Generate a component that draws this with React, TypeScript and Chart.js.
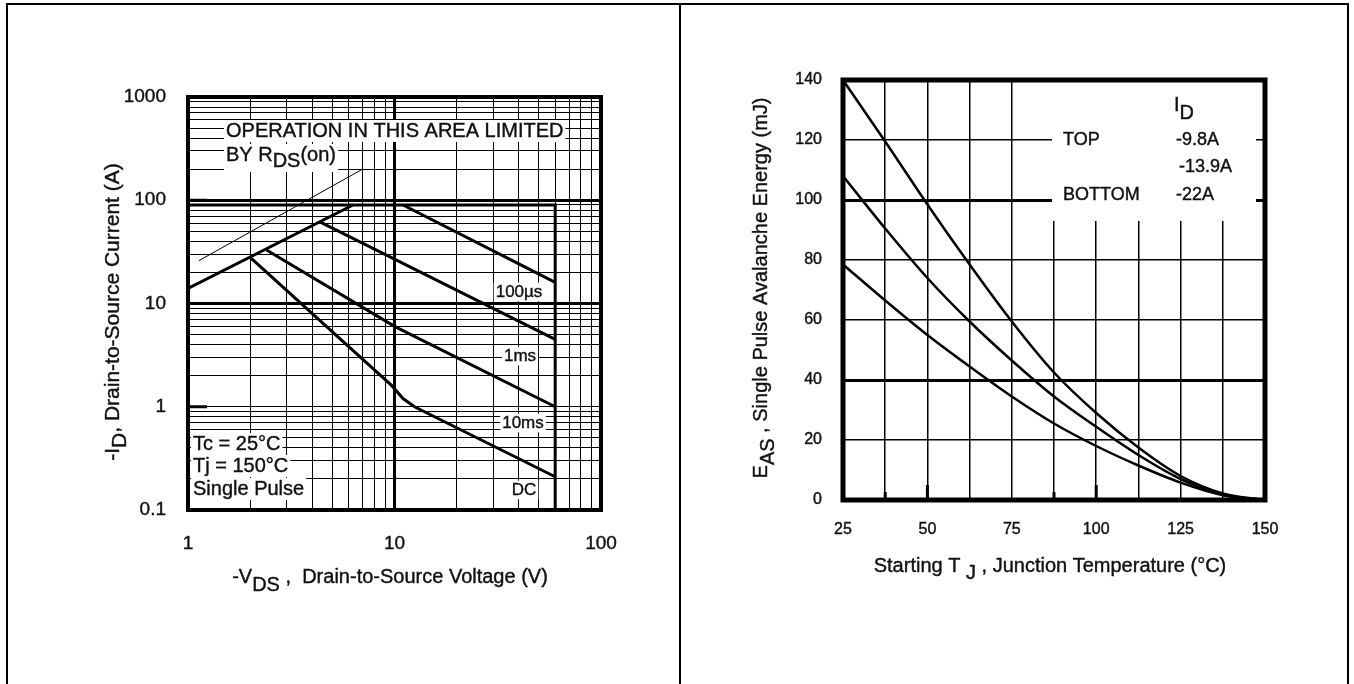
import { useEffect, useRef } from 'react';
import { Chart, registerables } from 'chart.js';

Chart.register(...registerables);

const FONT = '"Liberation Sans", Arial, Helvetica, sans-serif';
const INK = '#111';
const STROKE = 0.4;

// ---------- Left chart: maximum safe operating area ----------
const soaVoltageTicks = [1, 2, 3, 4, 5, 6, 7, 8, 9, 10, 20, 30, 40, 50, 60, 70, 80, 90, 100];
const soaCurrentTicks = [
  0.1, 0.2, 0.3, 0.4, 0.5, 0.6, 0.7, 0.8, 0.9,
  1, 2, 3, 4, 5, 6, 7, 8, 9,
  10, 20, 30, 40, 50, 60, 70, 80, 90,
  100, 200, 300, 400, 500, 600, 700, 800, 900, 1000,
];
const soaVoltageLabels = [1, 10, 100];
const soaCurrentLabels = [0.1, 1, 10, 100, 1000];
const soaHeavyVoltage = [10];
const soaHeavyCurrent = [10, 100];
const soaStubCurrent = [1, 100];

const limitVds = [1, 60, 60];
const limitId = [90, 90, 0.1];
const rdsVds = [1, 6.3];
const rdsId = [14, 90];
const rdsGuideVds = [1.13, 7];
const rdsGuideId = [26, 200];
const us100Vds = [11, 60];
const us100Id = [90, 16];
const ms1Vds = [4.4, 60];
const ms1Id = [61, 4.5];
const ms10Vds = [2.4, 10, 60];
const ms10Id = [33, 6.0, 1.0];
const dcVds = [2, 9.7, 11, 12.5, 60];
const dcId = [28, 1.6, 1.2, 1.0, 0.21];

// ---------- Right chart: avalanche energy vs temperature ----------
const tjLabels = [25, 50, 75, 100, 125, 150];
const easHeavy = [40, 100];
const tjC = [25, 37.5, 50, 62.5, 75, 87.5, 100, 112.5, 125, 137.5, 150];
const easTop = [140, 119.5, 98.5, 78.5, 59.5, 42.5, 29, 17.5, 8, 2.2, 0];
const easMid = [108, 90.5, 74, 59.5, 46.5, 34.5, 24.4, 15, 7, 1.8, 0];
const easBottom = [78.5, 66.5, 55, 44.5, 34.5, 25.5, 18, 11.5, 5.8, 1.6, 0];
const tjStubTall = [50, 100];
const tjStubShort = [37.5, 87.5];

type Seg = { t: string; sub?: boolean };

function rich(
  ctx: CanvasRenderingContext2D,
  segs: Seg[],
  x: number,
  y: number,
  o: { size: number; align?: 'left' | 'center'; rotate?: boolean; shift?: number; bg?: boolean }
) {
  const shift = o.shift ?? Math.round(o.size * 0.35);
  ctx.save();
  ctx.translate(x, y);
  if (o.rotate) ctx.rotate(-Math.PI / 2);
  ctx.font = `${o.size}px ${FONT}`;
  const widths = segs.map((s) => ctx.measureText(s.t).width);
  const total = widths.reduce((a, b) => a + b, 0);
  let cx = o.align === 'center' ? -total / 2 : 0;
  ctx.textBaseline = 'middle';
  ctx.textAlign = 'left';
  if (o.bg) {
    const hasSub = segs.some((s) => s.sub);
    ctx.fillStyle = '#fff';
    ctx.fillRect(cx - 2, -o.size * 0.55, total + 4, o.size * 1.1 + (hasSub ? shift : 0));
  }
  ctx.fillStyle = INK;
  ctx.strokeStyle = INK;
  ctx.lineWidth = STROKE;
  segs.forEach((s, i) => {
    const ty = s.sub ? shift : 0;
    ctx.fillText(s.t, cx, ty);
    ctx.strokeText(s.t, cx, ty);
    cx += widths[i];
  });
  ctx.restore();
}

function drawFrame(chart: any, w: number) {
  const { left, top, right, bottom } = chart.chartArea;
  const ctx = chart.ctx as CanvasRenderingContext2D;
  ctx.save();
  ctx.strokeStyle = '#000';
  ctx.lineWidth = w;
  ctx.strokeRect(left, top, right - left, bottom - top);
  ctx.restore();
}

const pts = (xs: number[], ys: number[]) => xs.map((x, i) => ({ x, y: ys[i] }));

const soaPlugin = {
  id: 'soaDecor',
  afterDatasetsDraw(chart: any) {
    const ctx = chart.ctx as CanvasRenderingContext2D;
    const { left } = chart.chartArea;
    const ys = chart.scales.y;
    ctx.save();
    ctx.strokeStyle = '#000';
    ctx.lineWidth = 3;
    soaStubCurrent.forEach((v) => {
      const py = ys.getPixelForValue(v);
      ctx.beginPath();
      ctx.moveTo(left, py);
      ctx.lineTo(left + 19, py);
      ctx.stroke();
    });
    ctx.restore();

    rich(ctx, [{ t: 'OPERATION IN THIS AREA LIMITED' }], 226, 131, { size: 20, bg: true });
    rich(ctx, [{ t: 'BY R' }, { t: 'DS', sub: true }, { t: '(on)' }], 226, 155, { size: 20, bg: true, shift: 6 });
    rich(ctx, [{ t: 'Tc = 25°C' }], 193, 444, { size: 20, bg: true });
    rich(ctx, [{ t: 'Tj = 150°C' }], 193, 466, { size: 20, bg: true });
    rich(ctx, [{ t: 'Single Pulse' }], 193, 489, { size: 20, bg: true });
    rich(ctx, [{ t: '100µs' }], 519, 292, { size: 17, bg: true, align: 'center' });
    rich(ctx, [{ t: '1ms' }], 520, 356, { size: 17, bg: true, align: 'center' });
    rich(ctx, [{ t: '10ms' }], 523, 423, { size: 17, bg: true, align: 'center' });
    rich(ctx, [{ t: 'DC' }], 524, 490, { size: 17, bg: true, align: 'center' });
  },
  afterDraw(chart: any) {
    const ctx = chart.ctx as CanvasRenderingContext2D;
    drawFrame(chart, 4);
    rich(ctx, [{ t: '-I' }, { t: 'D', sub: true }, { t: ', Drain-to-Source Current (A)' }], 113, 312, {
      size: 21,
      align: 'center',
      rotate: true,
      shift: 7,
    });
    rich(ctx, [{ t: '-V' }, { t: 'DS', sub: true }, { t: ' ,  Drain-to-Source Voltage (V)' }], 390, 577, {
      size: 20,
      align: 'center',
      shift: 8,
    });
  },
};

const easPlugin = {
  id: 'easDecor',
  beforeDatasetsDraw(chart: any) {
    const ctx = chart.ctx as CanvasRenderingContext2D;
    const { bottom } = chart.chartArea;
    const xs = chart.scales.x;
    ctx.save();
    ctx.fillStyle = '#fff';
    ctx.fillRect(372, 82, 204, 139);
    ctx.strokeStyle = '#000';
    ctx.lineWidth = 3;
    const stub = (v: number, h: number) => {
      const px = xs.getPixelForValue(v);
      ctx.beginPath();
      ctx.moveTo(px, bottom);
      ctx.lineTo(px, bottom - h);
      ctx.stroke();
    };
    tjStubTall.forEach((v) => stub(v, 15));
    tjStubShort.forEach((v) => stub(v, 8));
    ctx.restore();

    rich(ctx, [{ t: 'I' }, { t: 'D', sub: true }], 494, 105, { size: 20, shift: 8 });
    rich(ctx, [{ t: 'TOP' }], 383, 140, { size: 18 });
    rich(ctx, [{ t: '-9.8A' }], 496, 140, { size: 18 });
    rich(ctx, [{ t: '-13.9A' }], 499, 167, { size: 18 });
    rich(ctx, [{ t: 'BOTTOM' }], 383, 195, { size: 18 });
    rich(ctx, [{ t: '-22A' }], 496, 195, { size: 18 });
  },
  afterDraw(chart: any) {
    const ctx = chart.ctx as CanvasRenderingContext2D;
    drawFrame(chart, 5);
    rich(ctx, [{ t: 'E' }, { t: 'AS', sub: true }, { t: ' , Single Pulse Avalanche Energy (mJ)' }], 81, 288, {
      size: 20,
      align: 'center',
      rotate: true,
      shift: 7,
    });
    rich(ctx, [{ t: 'Starting T ' }, { t: 'J', sub: true }, { t: ' , Junction Temperature (°C)' }], 370, 566, {
      size: 20,
      align: 'center',
      shift: 7,
    });
  },
};

const tickFont = (size: number) => ({
  color: INK,
  textStrokeColor: INK,
  textStrokeWidth: STROKE,
  font: { family: FONT, size },
});

function soaConfig(): any {
  const line = (xs: number[], ys: number[], w = 3) => ({
    data: pts(xs, ys),
    borderColor: '#000',
    borderWidth: w,
    pointRadius: 0,
    tension: 0,
    fill: false,
  });
  return {
    type: 'line',
    data: {
      datasets: [
        line(limitVds, limitId),
        line(rdsVds, rdsId),
        line(rdsGuideVds, rdsGuideId, 1),
        line(us100Vds, us100Id),
        line(ms1Vds, ms1Id),
        line(ms10Vds, ms10Id),
        line(dcVds, dcId),
      ],
    },
    options: {
      responsive: false,
      animation: false,
      devicePixelRatio: 1,
      events: [],
      layout: { padding: { left: 0, top: 97, right: 79, bottom: 114 } },
      plugins: { legend: { display: false }, tooltip: { enabled: false } },
      scales: {
        x: {
          type: 'logarithmic',
          min: 1,
          max: 100,
          afterBuildTicks: (s: any) => {
            s.ticks = soaVoltageTicks.map((v) => ({ value: v }));
          },
          afterFit: (s: any) => {
            s.height = 60;
          },
          ticks: {
            autoSkip: false,
            maxRotation: 0,
            padding: 22,
            ...tickFont(19),
            callback: (v: any) => (soaVoltageLabels.includes(Number(v)) ? String(v) : ''),
          },
          grid: {
            color: '#000',
            drawTicks: false,
            lineWidth: (c: any) => (c.tick && soaHeavyVoltage.includes(c.tick.value) ? 3 : 1),
          },
          border: { display: false },
        },
        y: {
          type: 'logarithmic',
          min: 0.1,
          max: 1000,
          afterBuildTicks: (s: any) => {
            s.ticks = soaCurrentTicks.map((v) => ({ value: v }));
          },
          afterFit: (s: any) => {
            s.width = 188;
          },
          ticks: {
            autoSkip: false,
            padding: 22,
            ...tickFont(19),
            callback: (v: any) => (soaCurrentLabels.includes(Number(v)) ? String(v) : ''),
          },
          grid: {
            color: '#000',
            drawTicks: false,
            lineWidth: (c: any) => (c.tick && soaHeavyCurrent.includes(c.tick.value) ? 3 : 1),
          },
          border: { display: false },
        },
      },
    },
    plugins: [soaPlugin],
  };
}

function easConfig(): any {
  const line = (ys: number[]) => ({
    data: pts(tjC, ys),
    borderColor: '#000',
    borderWidth: 2.5,
    pointRadius: 0,
    cubicInterpolationMode: 'monotone',
    fill: false,
  });
  return {
    type: 'line',
    data: { datasets: [line(easTop), line(easMid), line(easBottom)] },
    options: {
      responsive: false,
      animation: false,
      devicePixelRatio: 1,
      events: [],
      layout: { padding: { left: 0, top: 80, right: 89, bottom: 134 } },
      plugins: { legend: { display: false }, tooltip: { enabled: false } },
      scales: {
        x: {
          type: 'linear',
          min: 25,
          max: 150,
          afterFit: (s: any) => {
            s.height = 50;
          },
          ticks: {
            stepSize: 12.5,
            autoSkip: false,
            maxRotation: 0,
            padding: 20,
            ...tickFont(16),
            callback: (v: any) => (tjLabels.includes(Number(v)) ? String(v) : ''),
          },
          grid: { color: '#000', drawTicks: false, lineWidth: 1.5 },
          border: { display: false },
        },
        y: {
          type: 'linear',
          min: 0,
          max: 140,
          afterFit: (s: any) => {
            s.width = 163;
          },
          ticks: {
            stepSize: 20,
            padding: 21,
            ...tickFont(16),
          },
          grid: {
            color: '#000',
            drawTicks: false,
            lineWidth: (c: any) => (c.tick && easHeavy.includes(c.tick.value) ? 3 : 1.5),
          },
          border: { display: false },
        },
      },
    },
    plugins: [easPlugin],
  };
}

export default function App() {
  const leftRef = useRef<HTMLCanvasElement>(null);
  const rightRef = useRef<HTMLCanvasElement>(null);
  useEffect(() => {
    const c1 = new Chart(leftRef.current as HTMLCanvasElement, soaConfig());
    const c2 = new Chart(rightRef.current as HTMLCanvasElement, easConfig());
    return () => {
      c1.destroy();
      c2.destroy();
    };
  }, []);
  return (
    <div
      style={{
        position: 'fixed',
        left: 0,
        top: 0,
        width: 1354,
        height: 684,
        background: '#fff',
        overflow: 'hidden',
      }}
    >
      <canvas
        ref={leftRef}
        width={680}
        height={684}
        style={{ position: 'absolute', left: 0, top: 0, width: 680, height: 684 }}
      />
      <canvas
        ref={rightRef}
        width={674}
        height={684}
        style={{ position: 'absolute', left: 680, top: 0, width: 674, height: 684 }}
      />
      <div
        style={{
          position: 'absolute',
          left: 6,
          top: 3,
          width: 1343,
          height: 700,
          boxSizing: 'border-box',
          borderTop: '2px solid #000',
          borderLeft: '2px solid #000',
          borderRight: '2px solid #000',
        }}
      />
      <div style={{ position: 'absolute', left: 679, top: 3, width: 2, height: 700, background: '#000' }} />
    </div>
  );
}
